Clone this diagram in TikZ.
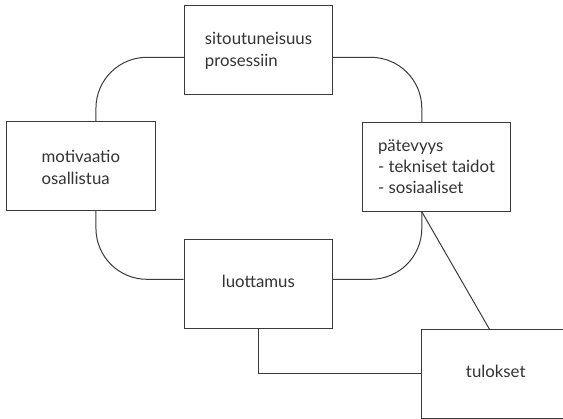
\documentclass[tikz,border=0pt]{standalone}
\usepackage{fontspec}
\setmainfont{Lato}
\definecolor{linec}{HTML}{3A3A3A}
\definecolor{textc}{HTML}{333333}
\newcommand\boxlines[2]{{\fontsize{16.8}{#1}\selectfont\begin{tabular}[t]{@{}l@{}}#2\end{tabular}}}
\begin{document}
\begin{tikzpicture}[x=1pt,y=-1pt,
  box/.style={draw=linec, line width=1pt, fill=white, minimum width=148.4pt, minimum height=88.6pt,
    inner sep=0pt, text=textc, font=\fontsize{16.8}{21.7}\selectfont},
  lower/.style={text height=0pt, text depth=#1},
  raise/.style={text height=#1, text depth=0pt},
  conn/.style={draw=linec, line width=1pt},
  ring/.style={conn, rounded corners=51pt}]
\useasboundingbox (0,0) rectangle (563,419);
\node[box, lower=10.4pt] (top) at (258.5,50.2) {\boxlines{21.7pt}{sitoutuneisuus\\prosessiin}};
\node[box, lower=7pt] (left) at (80.85,165.8) {\boxlines{22.7pt}{motivaatio\\osallistua}};
\node[box, lower=30pt] (right) at (436.5,167) {\boxlines{20.6pt}{pätevyys\\ - tekniset taidot\\ - sosiaaliset}};
\node[box, raise=6.4pt] (luot) at (258.35,284) {luottamus};
\node[box, raise=6.4pt] (tul) at (495.75,374) {tulokset};
\draw[ring] ([yshift=-7.1pt]top.west) -| ([xshift=15.1pt]left.north);
\draw[ring] ([yshift=-7.1pt]top.east) -| ([xshift=-14.7pt]right.north);
\draw[ring] ([xshift=15.1pt]left.south) |- ([yshift=4.7pt]luot.west);
\draw[ring] ([yshift=4.7pt]luot.east) -| ([xshift=-14.7pt]right.south);
\draw[conn] ([xshift=-14.7pt]right.south) -- ([xshift=-6.3pt]tul.north);
\draw[conn] (luot.south) |- (tul.west);
\end{tikzpicture}
\end{document}
